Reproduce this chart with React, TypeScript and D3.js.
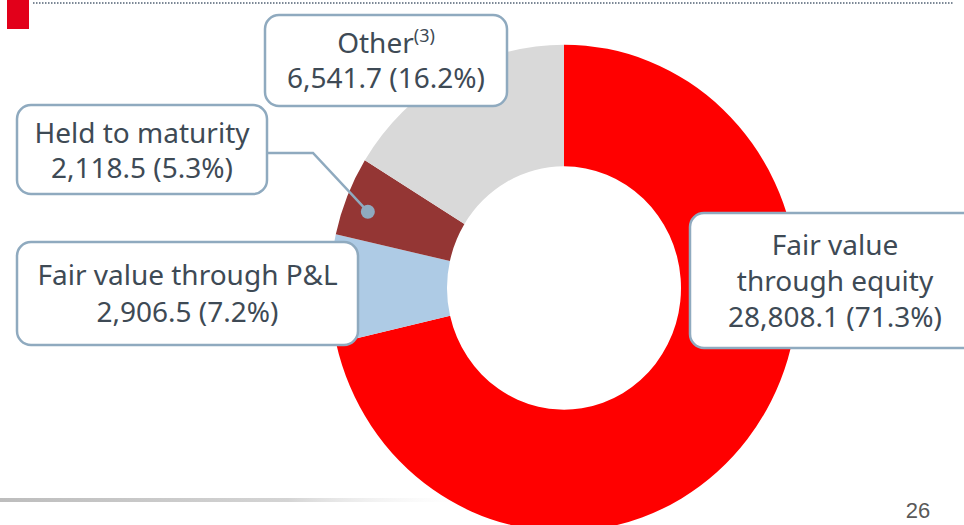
import React from 'react';
import * as d3 from 'd3';

// portfolio breakdown
const categories = ['Fair value through equity', 'Fair value through P&L', 'Held to maturity', 'Other'];
const values = [28808.1, 2906.5, 2118.5, 6541.7];
const shares = [71.3, 7.2, 5.3, 16.2];
const colors = ['#FF0000', '#AECBE5', '#943634', '#D9D9D9'];
const pageNumber = '26';

const W = 964;
const H = 525;
const cx = 564;
const cy = 288;
const R = 234;
const r = 117;
const squash = 1.04;

const textColor = '#3E4A55';
const boxStroke = '#8FAABF';

// label boxes: box rect, text lines centre + baselines
const boxes = [
  { x: 690, y: 213, w: 290, h: 135, lines: [['Fair value'], ['through equity']], base: 255, step: 36 },
  { x: 17, y: 242, w: 341, h: 103, lines: [['Fair value through P&L']], base: 285, step: 37 },
  { x: 17, y: 105, w: 250, h: 89, lines: [['Held to maturity']], base: 143, step: 35 },
  { x: 265, y: 15, w: 242, h: 91, lines: [['Other', '(3)']], base: 53, step: 35 },
];

const fmt = d3.format(',.1f');

export default function App() {
  const pie = d3.pie<number>().sort(null).value(d => d);
  const arcs = pie(values);
  const arc = d3.arc<d3.PieArcDatum<number>>().innerRadius(r).outerRadius(R);

  // leader dot for held to maturity
  const htm = arcs[2];
  const mid = (htm.startAngle + htm.endAngle) / 2 - 0.03;
  const dotR = R * 0.895;
  const dot = [cx + Math.sin(mid) * dotR, cy - Math.cos(mid) * dotR * squash];

  return (
    <svg width={W} height={H} style={{ position: 'absolute', left: 0, top: 0, background: '#fff' }}
      fontFamily="'Noto Sans', 'DejaVu Sans', sans-serif">
      <defs>
        <linearGradient id="foot" x1="0" x2="1" y1="0" y2="0">
          <stop offset="0" stopColor="#bdbdbd" />
          <stop offset="0.6" stopColor="#d4d4d4" />
          <stop offset="1" stopColor="#ffffff" stopOpacity={0} />
        </linearGradient>
      </defs>

      {/* header */}
      <rect x={7} y={0} width={22} height={29} fill="#E2001A" />
      <line x1={33} x2={954} y1={3} y2={3} stroke="#7C8896" strokeWidth={2} strokeDasharray="1.5 1.5" />

      {/* footer line sits behind the donut */}
      <rect x={0} y={498} width={480} height={4} fill="url(#foot)" />

      {/* donut */}
      <g transform={`translate(${cx},${cy}) scale(1,${squash})`}>
        {arcs.map((a, i) => (
          <path key={categories[i]} d={arc(a) || ''} fill={colors[i]} />
        ))}
      </g>

      {/* leader */}
      <polyline points={`265,153 313,153 ${dot[0]},${dot[1]}`} fill="none" stroke={boxStroke} strokeWidth={2.5} />
      <circle cx={dot[0]} cy={dot[1]} r={7} fill={boxStroke} />

      {/* label boxes */}
      {boxes.map((b, i) => {
        const valueLine = `${fmt(values[i])} (${shares[i]}%)`;
        const tx = i === 0 ? 835 : b.x + b.w / 2;
        return (
          <g key={categories[i]}>
            <rect x={b.x} y={b.y} width={b.w} height={b.h} rx={14} ry={14}
              fill="#fff" stroke={boxStroke} strokeWidth={2.5} />
            {b.lines.map((ln, j) => (
              <text key={j} x={tx} y={b.base + j * b.step} textAnchor="middle" fontSize={28} fill={textColor}>
                {ln[0]}
                {ln[1] ? <tspan fontSize={18} dy={-11}>{ln[1]}</tspan> : null}
              </text>
            ))}
            <text x={tx} y={b.base + b.lines.length * b.step} textAnchor="middle" fontSize={28} fill={textColor}>
              {valueLine}
            </text>
          </g>
        );
      })}

      {/* footer */}
      <text x={918} y={518} textAnchor="middle" fontSize={22} fill="#595959"
        fontFamily="'Liberation Sans Narrow', 'Liberation Sans', sans-serif">{pageNumber}</text>
    </svg>
  );
}
